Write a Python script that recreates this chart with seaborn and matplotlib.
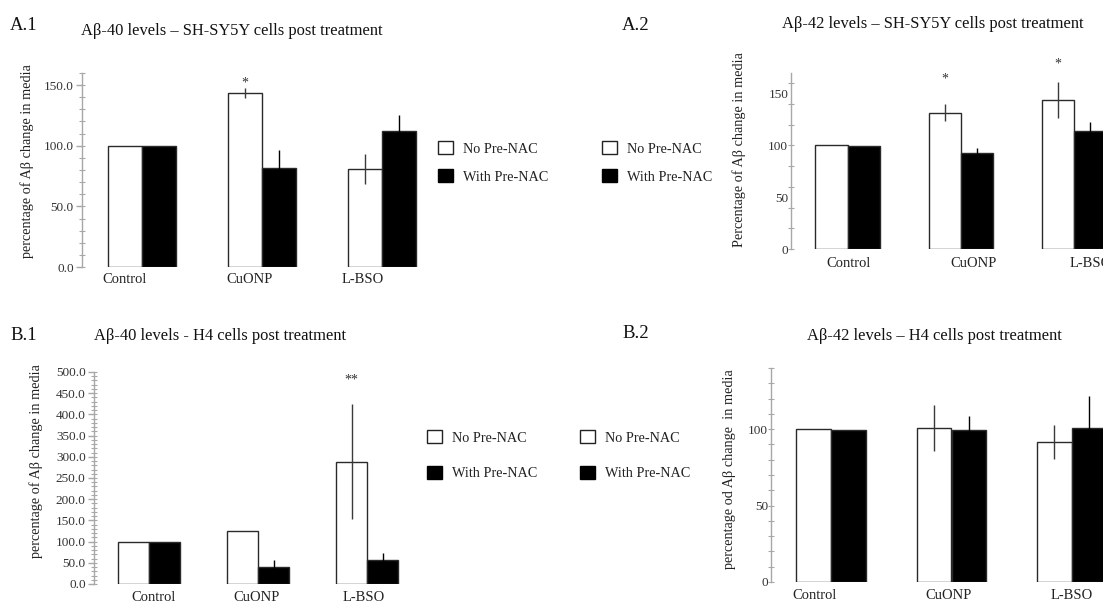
import numpy as np
import pandas as pd
import matplotlib
matplotlib.use("Agg")
import matplotlib.pyplot as plt
import seaborn as sns
from matplotlib.patches import Patch
from matplotlib.transforms import ScaledTranslation
from matplotlib.ticker import MultipleLocator, FormatStrFormatter

# ---------------- data ----------------
categories = ["Control", "CuONP", "L-BSO"]
groups = ["No Pre-NAC", "With Pre-NAC"]

a1_no = [100.0, 143.6, 80.9]
a1_with = [99.5, 81.8, 111.9]
a1_no_err = [0.0, 4.0, 12.3]
a1_with_err = [0.0, 14.6, 13.2]

a2_no = [100.0, 131.6, 143.9]
a2_with = [99.4, 92.3, 113.5]
a2_no_err = [0.0, 8.2, 17.6]
a2_with_err = [0.0, 5.5, 9.4]

b1_no = [100.0, 124.8, 288.0]
b1_with = [99.7, 40.8, 56.5]
b1_no_err = [0.0, 0.0, 135.5]
b1_with_err = [0.0, 15.7, 15.7]

b2_no = [100.0, 100.9, 91.5]
b2_with = [99.6, 99.6, 100.7]
b2_no_err = [0.0, 15.0, 11.2]
b2_with_err = [0.0, 9.0, 21.3]

# significance marks: (category index, text, y value)
a1_stars = [(1, "*", 152)]
a2_stars = [(1, "*", 164), (2, "*", 179)]
b1_stars = [(2, "**", 482)]
b2_stars = []

# ---------------- style ----------------
sns.set_style("white")
plt.rcParams["font.family"] = ["Liberation Serif", "DejaVu Serif"]

W, H = 1103, 602
fig = plt.figure(figsize=(W / 100, H / 100), dpi=100)
GRAY = "#a8a8a8"


def px_axes(l, r, t, b):
    return fig.add_axes([l / W, 1 - b / H, (r - l) / W, (b - t) / H])


def panel(ax, no, wi, no_err, wi_err, stars, ymax, major, minor, fmt,
          major_len, bar_width, xoffs, xpad):
    df = pd.DataFrame({
        "category": categories * 2,
        "group": [groups[0]] * len(categories) + [groups[1]] * len(categories),
        "value": list(no) + list(wi),
    })
    sns.barplot(data=df, x="category", y="value", hue="group",
                order=categories, hue_order=groups,
                palette=["white", "black"], saturation=1,
                width=bar_width, edgecolor="#2a2a2a", linewidth=1.0,
                errorbar=None, legend=False, ax=ax)
    for cont, errs, col in zip(ax.containers, [no_err, wi_err], ["#3a3a3a", "black"]):
        xs, hs, es = [], [], []
        for bar, e in zip(cont, errs):
            if e > 0:
                xs.append(bar.get_x() + bar.get_width() / 2)
                hs.append(bar.get_height())
                es.append(e)
        if xs:
            ax.errorbar(xs, hs, yerr=es, fmt="none", ecolor=col,
                        elinewidth=1.0, capsize=0, zorder=5)
    for ci, txt, yv in stars:
        bar = ax.containers[0][ci]
        ax.text(bar.get_x() + bar.get_width() / 2, yv, txt, ha="center",
                va="center", fontsize=10, color="#333333", clip_on=False)

    ax.set_xlim(-0.5, len(categories) - 0.5)
    ax.set_ylim(0, ymax)
    ax.set_xlabel("")
    ax.set_ylabel("")
    for s in ["top", "right", "bottom"]:
        ax.spines[s].set_visible(False)
    ax.spines["left"].set_color(GRAY)
    ax.spines["left"].set_linewidth(1.0)
    ax.yaxis.set_major_locator(MultipleLocator(major))
    ax.yaxis.set_minor_locator(MultipleLocator(minor))
    ax.yaxis.remove_overlapping_locs = False
    ax.yaxis.set_major_formatter(FormatStrFormatter(fmt))
    ax.tick_params(axis="y", which="major", left=True, length=major_len,
                   width=1, color=GRAY, direction="out", labelsize=9.5,
                   labelcolor="#333333", pad=2)
    ax.tick_params(axis="y", which="minor", left=True, length=5, width=0.8,
                   color=GRAY, direction="inout")
    ax.tick_params(axis="x", length=0, labelsize=10.5, labelcolor="#222222", pad=xpad)
    for lab, dx in zip(ax.get_xticklabels(), xoffs):
        lab.set_transform(lab.get_transform() + ScaledTranslation(dx / 100, 0, fig.dpi_scale_trans))
    ax.grid(False)
    ax.set_facecolor("none")


# A.1
ax1 = px_axes(82, 442, 73, 267)
panel(ax1, a1_no, a1_with, a1_no_err, a1_with_err, a1_stars, 160, 50, 10, "%.1f",
      4, 0.57, [-17, -12, -19], 4)
# A.2
ax2 = px_axes(791, 1131, 73, 249)
panel(ax2, a2_no, a2_with, a2_no_err, a2_with_err, a2_stars, 170, 50, 20, "%d",
      0, 0.57, [1, 13, 16], 6)
# B.1
ax3 = px_axes(94, 422, 372, 584)
panel(ax3, b1_no, b1_with, b1_no_err, b1_with_err, b1_stars, 500, 50, 10, "%.1f",
      4, 0.57, [5, -1, -4], 5)
# B.2
ax4 = px_axes(771, 1132, 368, 582)
panel(ax4, b2_no, b2_with, b2_no_err, b2_with_err, b2_stars, 140, 50, 10, "%d",
      0, 0.58, [-17, -3, 0], 5)


def ftext(x, y, s, **kw):
    fig.text(x / W, 1 - y / H, s, **kw)


# panel letters
for x, y, s in [(10, 25, "A.1"), (622, 25, "A.2"), (10, 335, "B.1"), (622, 333, "B.2")]:
    ftext(x, y, s, ha="left", va="center", fontsize=13.5, color="#111111")

# titles
titles = ["Aβ-40 levels – SH-SY5Y cells post treatment",
          "Aβ-42 levels – SH-SY5Y cells post treatment",
          "Aβ-40 levels - H4 cells post treatment",
          "Aβ-42 levels – H4 cells post treatment"]
for (x, y), s in zip([(232, 31), (933, 24), (220, 336), (934, 336)], titles):
    ftext(x, y, s, ha="center", va="center", fontsize=11.9, color="#111111")

# y labels
ylabels = ["percentage of Aβ change in media",
           "Percentage of Aβ change in media",
           "percentage of Aβ change in media",
           "percentage od Aβ change  in media"]
for (x, y), s in zip([(27, 161), (739, 150), (36, 461), (729, 469)], ylabels):
    ftext(x, y, s, ha="center", va="center", rotation=90, fontsize=10.3, color="#222222")

# legends
def make_handles():
    return [Patch(facecolor="white", edgecolor="#222222", linewidth=1.0, label=groups[0]),
            Patch(facecolor="black", edgecolor="black", linewidth=1.0, label=groups[1])]


for x, y, sp in [(438, 141, 0.95), (602, 141, 0.95), (427, 430, 1.5), (580, 430, 1.5)]:
    fig.legend(handles=make_handles(), loc="upper left",
               bbox_to_anchor=(x / W, 1 - y / H), frameon=False, fontsize=10.3,
               handlelength=1.05, handleheight=1.05, handletextpad=0.7,
               labelspacing=sp, borderpad=0, borderaxespad=0,
               labelcolor="#222222")

fig.savefig("out.png", dpi=100, facecolor="white")
